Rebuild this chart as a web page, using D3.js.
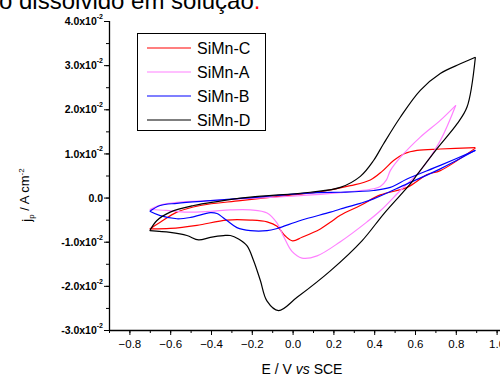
<!DOCTYPE html>
<html>
<head>
<meta charset="utf-8">
<script src="https://cdn.jsdelivr.net/npm/d3@7"></script>
<style>
  body { margin: 0; background: #fff; }
  svg { display: block; font-family: "Liberation Sans", Arial, sans-serif; }
</style>
</head>
<body>
<svg id="chart" width="500" height="376"></svg>
<script>
// series names, in legend order
var seriesNames = ["SiMn-C", "SiMn-A", "SiMn-B", "SiMn-D"];
var seriesColors = ["#ff0000", "#ff80ff", "#0000ff", "#000000"];

// each loop: forward (anodic) sweep then reverse sweep, [E, j]
var siMnC_fwd = [[-0.70,-0.0071],[-0.649,-0.0056],[-0.567,-0.0033],[-0.452,-0.0018],[-0.256,-0.0007],[-0.044,0.0004],[0.120,0.0012],[0.283,0.0027],[0.381,0.0040],[0.440,0.0060],[0.495,0.0084],[0.55,0.0100],[0.610,0.0107],[0.724,0.0110],[0.896,0.0113]];
var siMnC_rev = [[0.896,0.0112],[0.724,0.0061],[0.659,0.0052],[0.561,0.0023],[0.43,0.0006],[0.332,-0.0018],[0.234,-0.0040],[0.185,-0.0056],[0.136,-0.0071],[0.046,-0.0090],[0.0,-0.0098],[-0.036,-0.0087],[-0.076,-0.0065],[-0.125,-0.0055],[-0.207,-0.0051],[-0.322,-0.0051],[-0.469,-0.0063],[-0.6,-0.0070],[-0.70,-0.0071]];

var siMnA_fwd = [[-0.70,-0.0027],[-0.649,-0.0017],[-0.567,-0.0011],[-0.403,-0.0007],[-0.256,-0.0003],[0.0,0.0003],[0.234,0.0011],[0.397,0.0020],[0.43,0.0025],[0.46,0.0040],[0.479,0.0061],[0.528,0.0091],[0.626,0.0137],[0.724,0.0175],[0.80,0.0209]];
var siMnA_rev = [[0.80,0.0209],[0.724,0.0129],[0.626,0.0061],[0.528,0.0016],[0.43,-0.0030],[0.365,-0.0055],[0.234,-0.0100],[0.12,-0.0132],[0.046,-0.0137],[-0.003,-0.0122],[-0.044,-0.0088],[-0.076,-0.0058],[-0.125,-0.0035],[-0.207,-0.0028],[-0.305,-0.0028],[-0.403,-0.0031],[-0.518,-0.0033],[-0.62,-0.0029],[-0.70,-0.0027]];

var siMnB_fwd = [[-0.70,-0.0031],[-0.649,-0.0018],[-0.567,-0.0013],[-0.403,-0.0007],[-0.256,-0.0002],[0.120,0.0011],[0.234,0.0012],[0.397,0.0016],[0.479,0.0023],[0.561,0.0042],[0.724,0.0073],[0.896,0.0107]];
var siMnB_rev = [[0.896,0.0107],[0.724,0.0065],[0.561,0.0031],[0.397,-0.0003],[0.332,-0.0013],[0.234,-0.0026],[0.185,-0.0033],[0.038,-0.0052],[-0.076,-0.0070],[-0.125,-0.0075],[-0.207,-0.0075],[-0.273,-0.0068],[-0.322,-0.0052],[-0.371,-0.0036],[-0.403,-0.0034],[-0.50,-0.0045],[-0.567,-0.0048],[-0.649,-0.0041],[-0.70,-0.0031]];

var siMnD_fwd = [[-0.70,-0.0075],[-0.665,-0.0052],[-0.600,-0.0033],[-0.485,-0.0018],[-0.371,-0.0009],[-0.207,0.0001],[0.087,0.0012],[0.234,0.0023],[0.332,0.0048],[0.397,0.0084],[0.446,0.0122],[0.528,0.0182],[0.626,0.0243],[0.724,0.0281],[0.822,0.0303],[0.896,0.0318]];
var siMnD_rev = [[0.896,0.0318],[0.855,0.0205],[0.806,0.0167],[0.708,0.0111],[0.601,0.0046],[0.577,0.0031],[0.45,-0.0035],[0.340,-0.0098],[0.185,-0.0166],[0.022,-0.0226],[-0.069,-0.0256],[-0.126,-0.0234],[-0.158,-0.0188],[-0.191,-0.0143],[-0.224,-0.0109],[-0.265,-0.0094],[-0.305,-0.0086],[-0.338,-0.0086],[-0.403,-0.0090],[-0.461,-0.0096],[-0.518,-0.0086],[-0.600,-0.0079],[-0.70,-0.0075]];

var loops = [[siMnC_fwd, siMnC_rev], [siMnA_fwd, siMnA_rev], [siMnB_fwd, siMnB_rev], [siMnD_fwd, siMnD_rev]];

// ticks
var xTicks = [-0.8, -0.6, -0.4, -0.2, 0.0, 0.2, 0.4, 0.6, 0.8, 1.0];
var yTicks = [0.04, 0.03, 0.02, 0.01, 0.0, -0.01, -0.02, -0.03];
var yTickMantissa = ["4.0", "3.0", "2.0", "1.0", "0.0", "-1.0", "-2.0", "-3.0"];

var svg = d3.select("#chart");

var x = d3.scaleLinear().domain([-0.9, 1.0]).range([109, 496.6]);
var y = d3.scaleLinear().domain([-0.03, 0.04]).range([330, 21]);

// stray caption from the surrounding document
var cap = svg.append("text").attr("x", -1).attr("y", 9)
  .attr("font-size", 24).attr("fill", "#000");
cap.append("tspan").text("o dissolvido em solução");
cap.append("tspan").attr("fill", "#ff0000").text(".");

// x axis
var xAxis = d3.axisBottom(x).tickValues(d3.range(-0.9, 1.05, 0.1).map(function(d) { return +d.toFixed(1); }))
  .tickSize(3).tickFormat("");
svg.append("g").attr("transform", "translate(0,330)").call(xAxis)
  .call(function(g) { g.select(".domain").attr("d", "M109,0.5H500"); });
var xMajor = d3.axisBottom(x).tickValues(xTicks).tickSize(5).tickPadding(5)
  .tickFormat(d3.format(".1f"));
var gx = svg.append("g").attr("transform", "translate(0,330)").call(xMajor);
gx.select(".domain").remove();
gx.selectAll("text").attr("font-size", 11.5).attr("font-family", "Liberation Sans, Arial, sans-serif").attr("fill", "#000");
svg.selectAll(".tick line").attr("stroke", "#000");
svg.selectAll(".domain").attr("stroke", "#000").attr("stroke-width", 1.3);

// y axis
var yMinor = d3.axisLeft(y).tickValues(d3.range(-0.03, 0.0401, 0.005)).tickSize(3).tickFormat("");
svg.append("g").attr("transform", "translate(109,0)").call(yMinor)
  .call(function(g) { g.select(".domain").attr("d", "M0.5,21V330.5").attr("stroke", "#000").attr("stroke-width", 1.3); });
var gy = svg.append("g").attr("transform", "translate(109,0)")
  .call(d3.axisLeft(y).tickValues(yTicks).tickSize(5).tickFormat(""));
gy.select(".domain").remove();
gy.selectAll(".tick").each(function(d, i) {
  var t = d3.select(this).append("text").attr("x", -6).attr("dy", "0.35em")
    .attr("text-anchor", "end").attr("font-size", 10.5).attr("font-weight", "bold").attr("fill", "#000");
  if (d === 0) { t.text("0.0"); return; }
  t.append("tspan").text(yTickMantissa[i] + "x10");
  t.append("tspan").attr("font-size", 7).attr("dy", "-0.9em").text("-2");
});
svg.selectAll(".tick line").attr("stroke", "#000");

// axis titles
var xt = svg.append("text").attr("x", 302).attr("y", 374).attr("text-anchor", "middle")
  .attr("font-size", 14).attr("fill", "#000");
xt.append("tspan").text("E / V ");
xt.append("tspan").attr("font-style", "italic").text("vs");
xt.append("tspan").text(" SCE");

var yt = svg.append("text").attr("transform", "translate(31,195) rotate(-90)")
  .attr("text-anchor", "middle").attr("font-size", 13).attr("fill", "#000");
yt.append("tspan").text("j");
yt.append("tspan").attr("font-size", 8).attr("dy", "0.35em").text("p");
yt.append("tspan").attr("dy", "-0.35em").text(" / A cm");
yt.append("tspan").attr("font-size", 8).attr("dy", "-0.6em").text("-2");

// curves
var line = d3.line().x(function(d) { return x(d[0]); }).y(function(d) { return y(d[1]); })
  .curve(d3.curveCatmullRom.alpha(0.5));
loops.forEach(function(lp, i) {
  lp.forEach(function(branch) {
    svg.append("path").datum(branch).attr("d", line).attr("fill", "none")
      .attr("stroke", seriesColors[i]).attr("stroke-width", 1.2);
  });
});

// legend
svg.append("rect").attr("x", 137.5).attr("y", 33.5).attr("width", 128).attr("height", 97)
  .attr("fill", "#fff").attr("stroke", "#000").attr("stroke-width", 1);
seriesNames.forEach(function(n, i) {
  var ly = 48 + i * 24;
  svg.append("line").attr("x1", 147).attr("x2", 191).attr("y1", ly).attr("y2", ly)
    .attr("stroke", seriesColors[i]).attr("stroke-width", 1.2);
  svg.append("text").attr("x", 197).attr("y", ly + 6).attr("font-size", 16).attr("fill", "#000").text(n);
});
</script>
</body>
</html>
